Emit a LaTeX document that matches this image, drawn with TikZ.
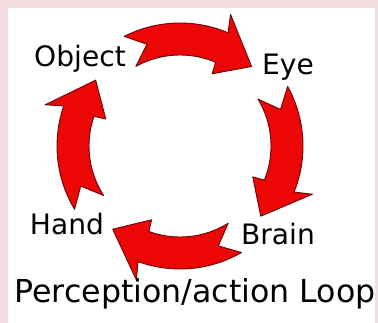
\documentclass[tikz,border=0pt]{standalone}
\usepackage{fontspec}
\setmainfont{DejaVu Sans}
\definecolor{loopred}{RGB}{236,6,6}
\definecolor{rim}{RGB}{100,8,8}
\definecolor{haze}{RGB}{243,222,226}
\tikzset{
  looparrow/.style={fill=loopred,draw=rim,line width=0.5pt,line join=round},
  lab/.style={font=\fontsize{16}{18}\selectfont,text=black,inner sep=0pt,anchor=base},
  title/.style={lab,font=\fontsize{18}{20}\selectfont},
}
\begin{document}
\begin{tikzpicture}[x=0.02cm,y=0.02cm]
\fill[haze] (0,0) rectangle (378,323);
\fill[white] (8,0) rectangle (375,315);
\useasboundingbox (0,0) rectangle (378,323);
% the four curved arrows round the loop
\begin{scope}[shift={(180,177)}]
\foreach \t/\e in {117/48,29/-41,-60/-129,211/142}{
  \pgfmathsetmacro{\h}{\e+19}
  \draw[looparrow] (\t:123) arc[start angle=\t,end angle=\h,radius=123]
    -- ({\h+2}:141) -- (\e:107) -- ({\h-1}:79) -- (\h:91)
    arc[start angle=\h,end angle=\t+2,radius=91]
    -- ({\t-9}:107) -- cycle;
}
\end{scope}
\node[lab] (object) at (80,256) {Object};
\node[lab] (eye) at (288,248) {Eye};
\node[lab] (hand) at (67,88) {Hand};
\node[lab] (brain) at (278,78) {Brain};
\node[title] (caption) at (195,20) {Perception/action Loop};
\end{tikzpicture}
\end{document}
